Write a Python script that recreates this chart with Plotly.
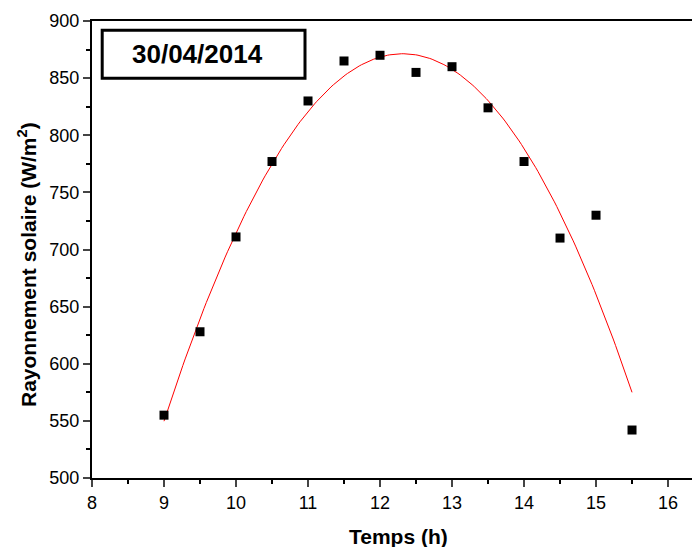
import numpy as np
import plotly.graph_objects as go

temps = [9, 9.5, 10, 10.5, 11, 11.5, 12, 12.5, 13, 13.5, 14, 14.5, 15, 15.5]
rayonnement = [555, 628, 711, 777, 830, 865, 870, 855, 860, 824, 777, 710, 730, 542]
date_label = "30/04/2014"
x_title = "Temps (h)"
y_title = "Rayonnement solaire (W/m<sup>2</sup>)"

# quadratic fit, as drawn in red
coef = np.polyfit(temps, rayonnement, 2)
xf = np.linspace(min(temps), max(temps), 200)
yf = np.polyval(coef, xf)

fig = go.Figure()
fig.add_trace(go.Scatter(x=xf, y=yf, mode="lines", line=dict(color="red", width=1), showlegend=False))
fig.add_trace(go.Scatter(x=temps, y=rayonnement, mode="markers",
                         marker=dict(symbol="square", size=9, color="black"), showlegend=False))

font_family = "Liberation Sans, Arial, sans-serif"
fig.update_layout(
    width=692, height=547,
    margin=dict(l=92, r=0, t=21, b=69),
    plot_bgcolor="white", paper_bgcolor="white",
    font=dict(family=font_family, size=18, color="black"),
    xaxis=dict(range=[8, 16.333], tickvals=list(range(8, 17)), ticks="outside", ticklen=7, tickwidth=2,
               showline=True, linewidth=2, linecolor="black", mirror=True, showgrid=False, zeroline=False,
               minor=dict(tickvals=[8.5 + i for i in range(8)], ticks="outside", ticklen=4, tickwidth=2, tickcolor="black")),
    yaxis=dict(range=[500, 900], tickvals=list(range(500, 901, 50)), ticks="outside", ticklen=7, tickwidth=2,
               showline=True, linewidth=2, linecolor="black", mirror=False, showgrid=False, zeroline=False,
               minor=dict(tickvals=[525 + 50 * i for i in range(8)], ticks="outside", ticklen=4, tickwidth=2, tickcolor="black")),
)
fig.add_annotation(xref="paper", yref="paper", x=0.51, y=0, yshift=-58, text="<b>" + x_title + "</b>",
                   showarrow=False, font=dict(size=21), xanchor="center", yanchor="middle")
fig.add_annotation(xref="paper", yref="paper", x=0, y=0.466, xshift=-65, text="<b>" + y_title + "</b>",
                   textangle=-90, showarrow=False, font=dict(size=21), xanchor="center", yanchor="middle")
fig.add_shape(type="rect", xref="paper", yref="paper", x0=0.017, x1=0.355, y0=0.875, y1=0.98,
              line=dict(color="black", width=3), fillcolor="white")
fig.add_annotation(xref="paper", yref="paper", x=0.176, y=0.928, text="<b>" + date_label + "</b>",
                   showarrow=False, font=dict(size=26, color="black"), xanchor="center", yanchor="middle")
fig.write_html("out.html")
